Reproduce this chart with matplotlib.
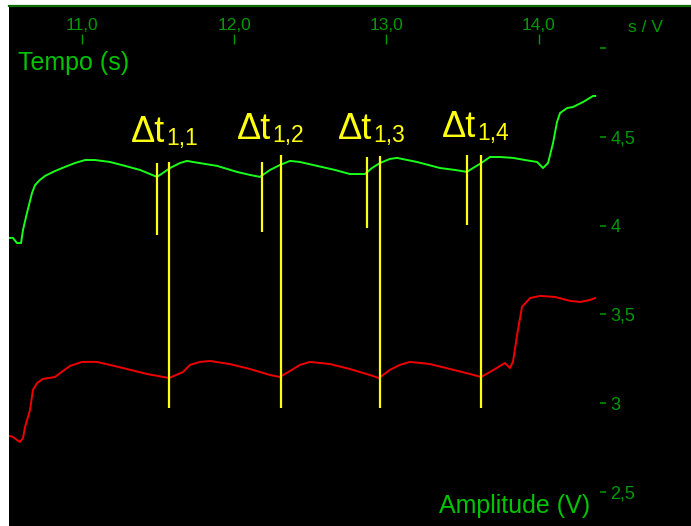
import matplotlib
matplotlib.use("Agg")
import matplotlib.pyplot as plt

# tempo (s) / amplitude (V)
t_green = [10.523, 10.549, 10.575, 10.602, 10.615, 10.641, 10.674, 10.694, 10.726, 10.759,
           10.825, 10.890, 10.956, 11.022, 11.087, 11.186, 11.284, 11.383, 11.448, 11.494,
           11.533, 11.580, 11.645, 11.691, 11.730, 11.809, 11.888, 12.019, 12.104, 12.170,
           12.236, 12.301, 12.367, 12.432, 12.544, 12.662, 12.760, 12.859, 12.905, 12.957,
           13.022, 13.069, 13.200, 13.351, 13.449, 13.528, 13.568, 13.613, 13.679, 13.745,
           13.830, 13.909, 13.988, 14.027, 14.060, 14.093, 14.119, 14.139, 14.185, 14.224,
           14.290, 14.323, 14.355, 14.369]
v_green = [3.931, 3.931, 3.902, 3.902, 3.976, 4.072, 4.184, 4.229, 4.258, 4.280,
           4.308, 4.331, 4.353, 4.370, 4.370, 4.359, 4.337, 4.314, 4.291, 4.275,
           4.297, 4.325, 4.353, 4.365, 4.359, 4.348, 4.337, 4.303, 4.286, 4.275,
           4.314, 4.342, 4.365, 4.359, 4.337, 4.314, 4.291, 4.291, 4.325, 4.353,
           4.376, 4.382, 4.359, 4.325, 4.314, 4.303, 4.325, 4.348, 4.387, 4.387,
           4.382, 4.370, 4.359, 4.325, 4.353, 4.466, 4.585, 4.635, 4.663, 4.669,
           4.697, 4.714, 4.731, 4.731]

t_red = [10.523, 10.549, 10.575, 10.595, 10.615, 10.628, 10.661, 10.680, 10.707, 10.746,
         10.825, 10.877, 10.923, 11.002, 11.100, 11.186, 11.297, 11.428, 11.573, 11.665,
         11.711, 11.776, 11.842, 11.973, 12.104, 12.236, 12.301, 12.367, 12.432, 12.498,
         12.629, 12.760, 12.892, 12.951, 13.022, 13.088, 13.154, 13.285, 13.417, 13.548,
         13.620, 13.679, 13.745, 13.777, 13.810, 13.830, 13.857, 13.889, 13.942, 14.007,
         14.106, 14.204, 14.270, 14.335, 14.369]
v_red = [2.815, 2.809, 2.792, 2.781, 2.803, 2.865, 2.961, 3.074, 3.113, 3.136,
         3.147, 3.181, 3.209, 3.232, 3.232, 3.215, 3.192, 3.164, 3.141, 3.175,
         3.215, 3.232, 3.237, 3.220, 3.192, 3.158, 3.147, 3.181, 3.215, 3.232,
         3.220, 3.192, 3.158, 3.141, 3.187, 3.215, 3.232, 3.220, 3.192, 3.164,
         3.147, 3.175, 3.209, 3.226, 3.198, 3.232, 3.384, 3.542, 3.592, 3.604,
         3.598, 3.576, 3.570, 3.581, 3.592]

# marcas dos intervalos Δt
short_t = [11.494, 12.183, 12.872, 13.528]
short_top = [4.353, 4.359, 4.387, 4.399]
short_bottom = [3.948, 3.964, 3.987, 4.004]
long_t = [11.573, 12.308, 12.957, 13.620]
long_top = [4.359, 4.399, 4.393, 4.399]
long_bottom = [2.972, 2.972, 2.972, 2.972]

dt_subs = ["1,1", "1,2", "1,3", "1,4"]
dt_x = [11.3235, 12.019, 12.682, 13.364]
dt_y = [4.472, 4.489, 4.489, 4.501]

xticks = [11, 12, 13, 14]
xtick_labels = ["11,0", "12,0", "13,0", "14,0"]
yticks = [2.5, 3, 3.5, 4, 4.5, 5]
ytick_labels = ["2,5", "3", "3,5", "4", "4,5", ""]

plt.rcParams['font.family'] = ['Liberation Sans', 'DejaVu Sans']
tick_green = '#009a00'
label_green = '#00c400'
yellow = '#ffff10'

fig = plt.figure(figsize=(6.91, 5.26), dpi=100, facecolor='white')

# fundo preto com a linha verde no topo
bg = fig.add_axes([9/691, 0, 682/691, 520/526])
bg.set_facecolor('black')
bg.set_xticks([])
bg.set_yticks([])
for s in ['left', 'right', 'bottom']:
    bg.spines[s].set_visible(False)
bg.spines['top'].set_color('#0b6e0b')
bg.spines['top'].set_linewidth(1.6)

ax = fig.add_axes([9/691, 0, 591/691, 482/526])
ax.patch.set_visible(False)
for s in ax.spines.values():
    s.set_visible(False)

ax.plot(t_green, v_green, color='#1aff1a', lw=1.4, zorder=2)
ax.plot(t_red, v_red, color='#f00000', lw=1.4, zorder=2)
ax.vlines(short_t, short_bottom, short_top, color=yellow, lw=1.6, zorder=3)
ax.vlines(long_t, long_bottom, long_top, color=yellow, lw=1.6, zorder=3)

for x, y, sub in zip(dt_x, dt_y, dt_subs):
    main = ax.text(x, y, "Δt", color=yellow, fontsize=26, ha='left', va='baseline')
    ax.annotate(sub, xy=(1, 0), xycoords=main, xytext=(1, 0), textcoords='offset points',
                color=yellow, fontsize=16.5, ha='left', va='bottom')

ax.set_xlim(10.523, 14.401)
ax.set_ylim(2.307, 5.024)

ax.xaxis.tick_top()
ax.set_xticks(xticks, xtick_labels)
ax.tick_params(axis='x', direction='out', length=7.2, width=1, colors=tick_green,
               pad=1, labelsize=12.5)
ax.yaxis.tick_right()
ax.set_yticks(yticks, ytick_labels)
ax.tick_params(axis='y', direction='out', length=4.3, width=1.1, colors=tick_green,
               pad=3, labelsize=13)

fig.text(645/691, 1 - 28/526, "s / V", color=tick_green, fontsize=12.5, ha='center', va='center')
fig.text(18/691, 1 - 70/526, "Tempo (s)", color=label_green, fontsize=18, ha='left', va='baseline')
fig.text(590/691, 1 - 513/526, "Amplitude (V)", color=label_green, fontsize=18,
         ha='right', va='baseline')

fig.savefig("out.png", dpi=100, facecolor='white')
